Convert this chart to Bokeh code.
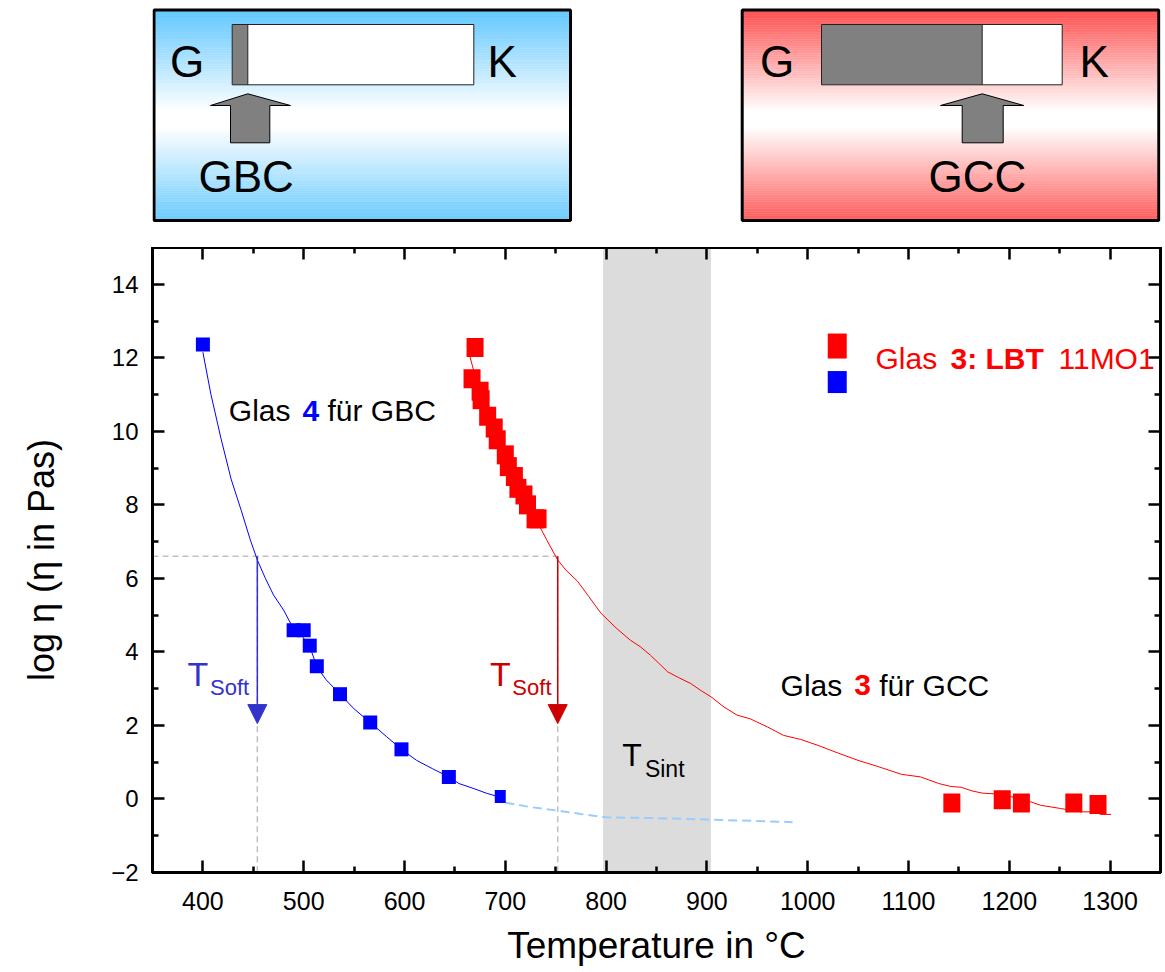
import numpy as np
from bokeh.plotting import figure
from bokeh.models import (Range1d, LinearAxis, FixedTicker, BoxAnnotation, Arrow,
                          NormalHead)
from bokeh.layouts import column
from bokeh.core.properties import value
from bokeh.embed import file_html
from bokeh.resources import INLINE

# ---------------- data ----------------
blue_T = [400, 490, 500, 506, 513, 536, 566, 597, 644, 695]
blue_eta = [12.36, 4.59, 4.59, 4.17, 3.61, 2.85, 2.08, 1.35, 0.60, 0.07]

blue_fit_T = [400, 408, 418, 428, 438, 447, 454, 462, 470, 480, 487, 495, 506, 513,
              522, 536, 550, 566, 582, 597, 612, 628, 644, 654, 669, 682, 695]
blue_fit_eta = [12.15, 11.0, 9.8, 8.7, 7.85, 7.05, 6.5, 6.0, 5.55, 5.14, 4.78, 4.55, 4.15, 3.6,
                3.25, 2.85, 2.45, 2.08, 1.7, 1.35, 1.05, 0.82, 0.6, 0.42, 0.28, 0.15, 0.05]

blue_ext_T = [700, 725, 750, 775, 800, 850, 900, 950, 985]
blue_ext_eta = [-0.1, -0.22, -0.31, -0.41, -0.5, -0.52, -0.56, -0.6, -0.63]

red_T = [670, 667, 675, 676, 682.5, 689, 692, 700, 703, 709, 712.5, 718.5, 722, 729.5, 732.5,
         1143, 1193, 1212, 1264, 1288]
red_eta = [12.28, 11.43, 11.09, 10.86, 10.41, 10.09, 9.77, 9.36, 9.04, 8.77, 8.45, 8.27, 8.0, 7.62, 7.62,
           -0.11, -0.02, -0.11, -0.11, -0.15]

red_fit_T = [665, 670, 676, 682, 689, 696, 703, 710, 718, 726, 733, 741, 752, 760,
             772, 783, 795, 810, 824, 834, 844, 852, 861, 872, 884, 894, 904, 917,
             930, 943, 960, 976, 993, 1010, 1030, 1050, 1070, 1093, 1112, 1130, 1142,
             1152, 1163, 1173, 1185, 1204, 1218, 1231, 1251, 1271, 1284, 1291, 1301]
red_fit_eta = [12.03, 11.5, 11.05, 10.65, 10.2, 9.7, 9.25, 8.8, 8.35, 7.9, 7.47, 7.05, 6.5, 6.23,
               5.91, 5.5, 5.05, 4.65, 4.32, 4.14, 3.91, 3.7, 3.46, 3.3, 3.14, 2.95, 2.78, 2.5,
               2.28, 2.18, 1.96, 1.73, 1.62, 1.46, 1.25, 1.05, 0.88, 0.67, 0.6, 0.42, 0.34,
               0.32, 0.22, 0.16, 0.14, 0.05, -0.05, -0.17, -0.26, -0.35, -0.35, -0.42, -0.42]

t_soft_eta = 6.6
t_soft_glas4 = 454
t_soft_glas3 = 752
t_arrow_end = 2.05
t_sint_range = (797, 904)

x_ticks = [400, 500, 600, 700, 800, 900, 1000, 1100, 1200, 1300]
x_minor = [350, 450, 550, 650, 750, 850, 950, 1050, 1150, 1250, 1350]
y_ticks = [-2, 0, 2, 4, 6, 8, 10, 12, 14]
y_minor = [-1, 1, 3, 5, 7, 9, 11, 13, 15]

FONT = value("Liberation Sans")
BLUE = "#0000ff"
RED = "#ff0000"
W = 1165
BL, BR = 152, 5          # frame borders left / right (page px)
BASE_SHIFT = 0.36        # baseline correction (em) for the svg text baseline
PX_PER_UNIT = 36.7       # approx. pixels per log-eta unit

# ---------------- top diagrams (page pixel coordinates) ----------------
top = figure(width=W, height=247, x_range=Range1d(BL, W - BR), y_range=Range1d(247, 0),
             toolbar_location=None, output_backend="svg", min_border=0,
             min_border_left=BL, min_border_right=BR,
             x_axis_type=None, y_axis_type=None)
top.outline_line_color = None
top.grid.visible = False


def gradient_box(fig, x0, x1, y0, y1, base):
    n = 120
    edges = np.linspace(y0, y1, n + 1)
    cols = []
    for i in range(n):
        t = (i + 0.5) / n
        w = max(0.0, 1.0 - abs(t - 0.52) / 0.5)
        w = min(1.0, w * 1.08)
        c = [int(round(b * (1 - w) + 255 * w)) for b in base]
        cols.append("#%02x%02x%02x" % tuple(c))
    fig.quad(left=[x0] * n, right=[x1] * n, top=list(edges[:-1]), bottom=list(edges[1:]),
             fill_color=cols, line_color=cols, line_width=0.5)
    fig.quad(left=[x0], right=[x1], top=[y0], bottom=[y1], fill_color=None,
             line_color="black", line_width=3)


def bar(fig, x0, xg, x1, y0, y1):
    fig.quad(left=[x0], right=[x1], top=[y0], bottom=[y1], fill_color="white", line_color=None)
    fig.quad(left=[x0], right=[xg], top=[y0], bottom=[y1], fill_color="#808080", line_color=None)
    fig.segment(x0=[xg], y0=[y0], x1=[xg], y1=[y1], line_color="#222222", line_width=1)
    fig.quad(left=[x0], right=[x1], top=[y0], bottom=[y1], fill_color=None,
             line_color="#222222", line_width=1)


def block_arrow(fig, tip, hl, hr, sl, sr, ytip, yhead, ybot):
    fig.patch(x=[tip, hr, sr, sr, sl, sl, hl], y=[ytip, yhead, yhead, ybot, ybot, yhead, yhead],
              fill_color="#808080", line_color="black", line_width=1)


gradient_box(top, 153.5, 570, 9.5, 220, (100, 200, 255))
bar(top, 231.7, 247.3, 473.3, 24, 84.3)
block_arrow(top, 247.3, 210, 290, 230, 269.3, 93.3, 105, 142.3)

gradient_box(top, 741.7, 1158.3, 9.5, 220, (255, 85, 85))
bar(top, 821, 981.7, 1061.7, 24, 84.3)
block_arrow(top, 981.7, 940, 1023.3, 961.7, 1002.7, 93.3, 105, 142.3)

shift_top = BASE_SHIFT * 44
top.text(x=[169.5, 487, 198, 759.5, 1079, 928],
         y=[76.7 - shift_top, 76.7 - shift_top, 191.7 - shift_top,
            76.7 - shift_top, 76.7 - shift_top, 191.7 - shift_top],
         text=["G", "K", "GBC", "G", "K", "GCC"], text_font=FONT, text_font_size="44px",
         text_color="black", text_baseline="alphabetic", text_align="left")

# ---------------- main chart ----------------
p = figure(width=W, height=723, x_range=Range1d(350, 1350), y_range=Range1d(-2, 15),
           toolbar_location=None, output_backend="svg", x_axis_type=None, y_axis_type=None,
           min_border_left=BL, min_border_right=BR, min_border_top=0, min_border_bottom=98)
p.outline_line_color = "black"
p.outline_line_width = 3
p.background_fill_color = "white"


def make_axis(ticks, minor, labels, **kw):
    ax = LinearAxis(ticker=FixedTicker(ticks=ticks, minor_ticks=minor),
                    axis_line_width=3, axis_line_color="black",
                    major_tick_in=12, major_tick_out=0, minor_tick_in=6, minor_tick_out=0,
                    major_tick_line_width=2.5, minor_tick_line_width=2.5,
                    major_tick_line_color="black", minor_tick_line_color="black", **kw)
    if labels:
        ax.major_label_text_font = "Liberation Sans"
        ax.major_label_text_font_size = "24px"
        ax.major_label_text_color = "black"
        ax.axis_label_text_color = "black"
        ax.axis_label_text_font = "Liberation Sans"
        ax.axis_label_text_font_style = "normal"
    else:
        ax.major_label_text_font_size = "1px"
        ax.major_label_text_color = None
        ax.major_label_standoff = 0
    return ax


xb = make_axis(x_ticks, x_minor, True, axis_label="Temperature in °C")
xb.major_label_text_font_size = "25px"
xb.major_label_standoff = 19
xb.axis_label_text_font_size = "37px"
xb.axis_label_standoff = 12
p.add_layout(xb, "below")

yl = make_axis(y_ticks, y_minor, True, axis_label="log η (η in Pas)")
yl.major_label_standoff = 14
yl.axis_label_text_font_size = "36px"
yl.axis_label_standoff = 46
p.add_layout(yl, "left")

p.add_layout(make_axis(x_ticks, x_minor, False), "above")
p.add_layout(make_axis(y_ticks, y_minor, False), "right")

# sintering band
p.add_layout(BoxAnnotation(left=t_sint_range[0], right=t_sint_range[1], fill_color="#dcdcdc",
                           fill_alpha=1.0, line_color=None, level="underlay"))

# reference dashed lines
p.line(x=[350, t_soft_glas3], y=[t_soft_eta, t_soft_eta], line_color="#c0c0c0",
       line_width=1.5, line_dash="6 4")
p.segment(x0=[t_soft_glas4, t_soft_glas3], y0=[t_soft_eta, t_soft_eta],
          x1=[t_soft_glas4, t_soft_glas3], y1=[-2, -2], line_color="#c0c0c0",
          line_width=1.5, line_dash="6 4")

# fit curves
p.line(blue_ext_T, blue_ext_eta, line_color="#99ccff", line_width=2, line_dash="9 5")
p.line(blue_fit_T, blue_fit_eta, line_color=BLUE, line_width=1)
p.line(red_fit_T, red_fit_eta, line_color=RED, line_width=1)

# markers
p.rect(x=blue_T[:-1], y=blue_eta[:-1], width=14, height=14, width_units="screen",
       height_units="screen", fill_color=BLUE, line_color=None)
p.rect(x=blue_T[-1:], y=blue_eta[-1:], width=11, height=13, width_units="screen",
       height_units="screen", fill_color=BLUE, line_color=None)
p.rect(x=red_T, y=red_eta, width=17, height=19, width_units="screen",
       height_units="screen", fill_color=RED, line_color=None)

# legend markers
p.rect(x=[1029.3], y=[12.32], width=19, height=25, width_units="screen",
       height_units="screen", fill_color=RED, line_color=None)
p.rect(x=[1029.3], y=[11.34], width=19, height=22, width_units="screen",
       height_units="screen", fill_color=BLUE, line_color=None)

# arrows
for xa, c in [(t_soft_glas4, "#3333cc"), (t_soft_glas3, "#cc0000")]:
    p.add_layout(Arrow(end=NormalHead(size=19, fill_color=c, line_color=c),
                       x_start=xa, y_start=t_soft_eta, x_end=xa, y_end=t_arrow_end,
                       line_color=c, line_width=1.5))


def txt(x, y, s, size, color="black", bold=False):
    y_adj = y + BASE_SHIFT * size / PX_PER_UNIT
    p.text(x=[x], y=[y_adj], text=[s], text_font=FONT, text_font_size="%dpx" % size,
           text_color=color, text_baseline="alphabetic", text_align="left",
           text_font_style="bold" if bold else "normal")


# curve labels
txt(425.7, 10.27, "Glas", 30)
txt(498.8, 10.27, "4", 30, BLUE, True)
txt(523.6, 10.27, "für GBC", 30)
txt(973.1, 2.8, "Glas", 30)
txt(1046.2, 2.8, "3", 30, RED, True)
txt(1071.0, 2.8, "für GCC", 30)

# legend text
txt(1067.3, 11.68, "Glas", 30, RED)
txt(1141.7, 11.68, "3:", 30, RED, True)
txt(1176.4, 11.68, "LBT", 30, RED, True)
txt(1248.8, 11.68, "11MO1", 30, RED)

# T_soft labels
txt(384.7, 3.07, "T", 34, "#3333cc")
txt(407.1, 2.82, "Soft", 22, "#3333cc")
txt(684.8, 3.07, "T", 34, "#cc0000")
txt(707.0, 2.82, "Soft", 22, "#cc0000")

# T_sint label
txt(816.1, 0.87, "T", 32)
txt(838.5, 0.6, "Sint", 23)

layout = column(top, p, spacing=0)
open("out.html", "w").write(file_html(layout, INLINE))
